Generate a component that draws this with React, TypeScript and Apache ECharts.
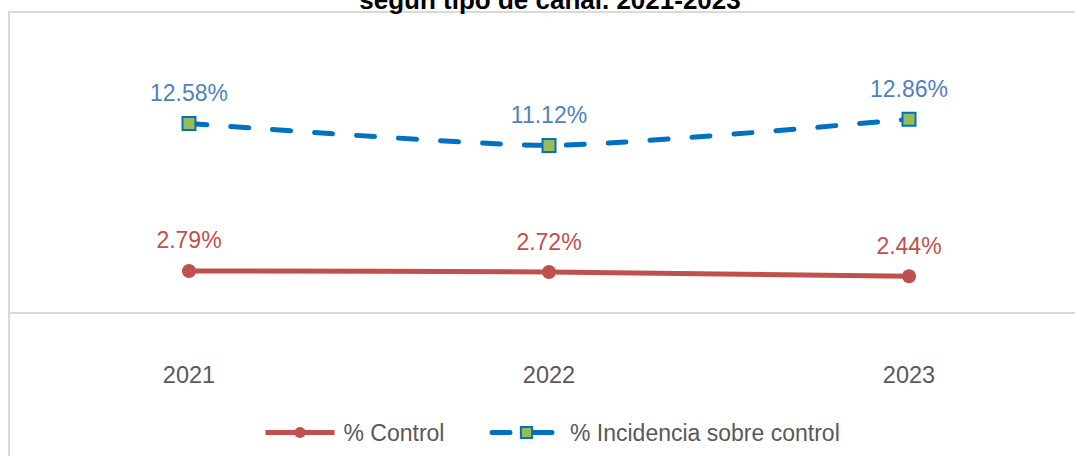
import React, { useEffect, useRef } from "react";
import * as echarts from "echarts";

const categories = ["2021", "2022", "2023"];
const controlValues = [2.79, 2.72, 2.44];
const incidenciaValues = [12.58, 11.12, 12.86];
const seriesNames = ["% Control", "% Incidencia sobre control"];
const titleText = "según tipo de canal. 2021-2023";

export default function App() {
  const ref = useRef<HTMLDivElement>(null);
  useEffect(() => {
    document.body.style.margin = "0";
    const chart = echarts.init(ref.current!, null, { renderer: "svg" });
    const font = "Liberation Sans, Arial, sans-serif";
    chart.setOption({
      animation: false,
      backgroundColor: "#ffffff",
      textStyle: { fontFamily: font },
      title: {
        text: titleText,
        left: "center",
        top: -18,
        textStyle: { fontSize: 26, fontWeight: "bold", color: "#000000", fontFamily: font },
      },
      graphic: [
        {
          type: "rect",
          shape: { x: 9, y: 12, width: 1080, height: 460 },
          style: { fill: "none", stroke: "#d9d9d9", lineWidth: 2 },
          silent: true,
          z: -1,
        },
      ],
      grid: { left: 9, width: 1080, top: 102, height: 211, containLabel: false },
      xAxis: {
        type: "category",
        data: categories,
        boundaryGap: true,
        axisLine: { lineStyle: { color: "#d9d9d9", width: 2 } },
        axisTick: { show: false },
        axisLabel: { color: "#595959", fontSize: 23.5, margin: 50, fontFamily: font },
      },
      yAxis: {
        type: "value",
        min: 0,
        max: 14,
        show: false,
        splitLine: { show: false },
      },
      legend: {
        bottom: 12,
        left: 263,
        padding: 0,
        itemWidth: 69,
        itemHeight: 14,
        itemGap: 45,
        lineStyle: { width: 5 },
        textStyle: { color: "#595959", fontSize: 23, fontFamily: font, padding: [0, 0, 0, 4] },
        data: seriesNames,
      },
      series: [
        {
          name: seriesNames[0],
          type: "line",
          data: controlValues,
          smooth: 0.2,
          symbol: "circle",
          symbolSize: 14,
          itemStyle: { color: "#c0504d" },
          lineStyle: { color: "#c0504d", width: 5 },
          label: {
            show: true,
            position: "top",
            distance: 12,
            formatter: (p: any) => p.value.toFixed(2) + "%",
            color: "#c0504d",
            fontSize: 23,
            fontFamily: font,
          },
        },
        {
          name: seriesNames[1],
          type: "line",
          data: incidenciaValues,
          smooth: 0.2,
          symbol: "rect",
          symbolSize: 13,
          itemStyle: { color: "#9bbb59", borderColor: "#0070c0", borderWidth: 2 },
          lineStyle: { color: "#0070c0", width: 5, type: [18, 24], cap: "round" },
          label: {
            show: true,
            position: "top",
            distance: 11,
            formatter: (p: any) => p.value.toFixed(2) + "%",
            color: "#4f81bd",
            fontSize: 23,
            fontFamily: font,
          },
        },
      ],
    });
    return () => chart.dispose();
  }, []);
  return (
    <div style={{ width: 1075, height: 456, overflow: "hidden", position: "relative" }}>
      <div ref={ref} style={{ width: 1100, height: 456 }} />
    </div>
  );
}
